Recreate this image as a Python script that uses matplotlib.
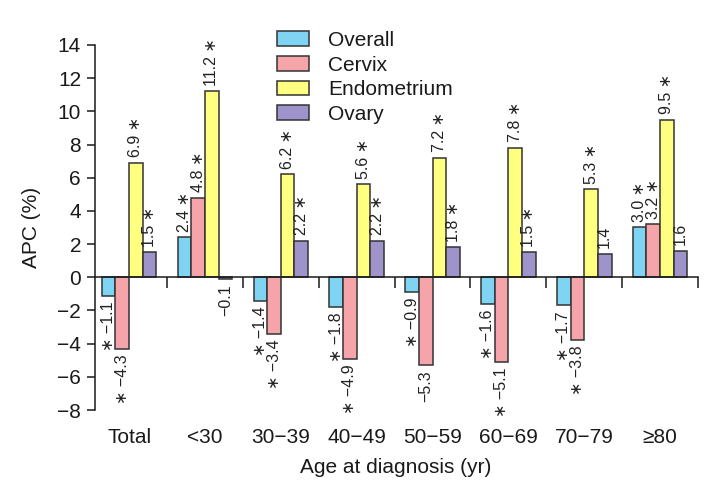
#!/usr/bin/env python3
import numpy as np
import matplotlib
matplotlib.use("Agg")
import matplotlib.pyplot as plt
from matplotlib.patches import Rectangle
import matplotlib.transforms as mtransforms

plt.rcParams['font.family'] = ['Liberation Sans', 'DejaVu Sans']

groups = ["Total", "<30", "30\u221239", "40\u221249", "50\u221259", "60\u221269", "70\u221279", "\u226580"]
series = ["Overall", "Cervix", "Endometrium", "Ovary"]
overall = [-1.1, 2.4, -1.4, -1.8, -0.9, -1.6, -1.7, 3.0]
cervix = [-4.3, 4.8, -3.4, -4.9, -5.3, -5.1, -3.8, 3.2]
endometrium = [6.9, 11.2, 6.2, 5.6, 7.2, 7.8, 5.3, 9.5]
ovary = [1.5, -0.1, 2.2, 2.2, 1.8, 1.5, 1.4, 1.6]
# significance flags (asterisk)
sig_overall = [1, 1, 1, 1, 1, 1, 1, 1]
sig_cervix = [1, 1, 1, 1, 0, 1, 1, 1]
sig_endometrium = [1, 1, 1, 1, 1, 1, 1, 1]
sig_ovary = [1, 0, 1, 1, 1, 1, 0, 0]

colors = ["#7fd4f4", "#f5a4a9", "#ffff80", "#9e94cb"]
values = [overall, cervix, endometrium, ovary]
sigs = [sig_overall, sig_cervix, sig_endometrium, sig_ovary]

fig = plt.figure(figsize=(7.24, 4.9), dpi=100)
ax = fig.add_axes([95/724, 80/490, 603/724, 365/490])

x = np.arange(len(groups))
w = 0.18
for k in range(4):
    xs = x + (k - 1.5) * w
    ax.bar(xs, values[k], width=w, color=colors[k], edgecolor="#333333",
           linewidth=1.1, zorder=2)
    for xi, v, s in zip(xs, values[k], sigs[k]):
        txt = "%.1f" % v
        txt = txt.replace("-", "\u2212")
        if v >= 0:
            lab = txt + (" \u2217" if s else "")
            ax.annotate(lab, (xi, v), xytext=(0, 4), textcoords="offset points",
                        rotation=90, ha="center", va="bottom", fontsize=11.5,
                        color="#222222")
        else:
            lab = ("\u2217 " if s else "") + txt
            ax.annotate(lab, (xi, v), xytext=(0, -4), textcoords="offset points",
                        rotation=90, ha="center", va="top", fontsize=11.5,
                        color="#222222")

ax.set_xlim(-0.45, 7.5)
ax.set_ylim(-8, 14)
ax.set_yticks(np.arange(-8, 15, 2))
ax.tick_params(axis="y", labelsize=15, length=6, width=1.1, direction="out",
               colors="#1a1a1a", pad=4)
ax.set_xticks(np.arange(0.5, 8, 1))
ax.set_xticklabels([])
ax.tick_params(axis="x", length=8, width=1.1, direction="out", colors="#1a1a1a")

ax.spines["top"].set_visible(False)
ax.spines["right"].set_visible(False)
ax.spines["bottom"].set_position(("data", 0))
for sp in ["left", "bottom"]:
    ax.spines[sp].set_linewidth(1.1)
    ax.spines[sp].set_color("#1a1a1a")

trans = mtransforms.blended_transform_factory(ax.transData, ax.transAxes)
for xi, g in zip(x, groups):
    ax.text(xi, -0.075, g, transform=trans, ha="center", va="center",
            fontsize=15, color="#1a1a1a")

ax.set_ylabel("APC (%)", fontsize=15, color="#1a1a1a", labelpad=12)
fig.text(396/724, 1 - 467/490, "Age at diagnosis (yr)", ha="center", va="center",
         fontsize=15, color="#1a1a1a")

handles = [Rectangle((0, 0), 1, 1, facecolor=c, edgecolor="#333333", linewidth=1.1)
           for c in colors]
fig.legend(handles, series, loc="upper left", bbox_to_anchor=(277/724, 1 - 31/490),
           frameon=False, fontsize=15, handlelength=1.55, handleheight=0.7,
           handletextpad=0.9, labelspacing=0.27, borderpad=0, borderaxespad=0,
           labelcolor="#1a1a1a")

plt.savefig("out.png", dpi=100)
